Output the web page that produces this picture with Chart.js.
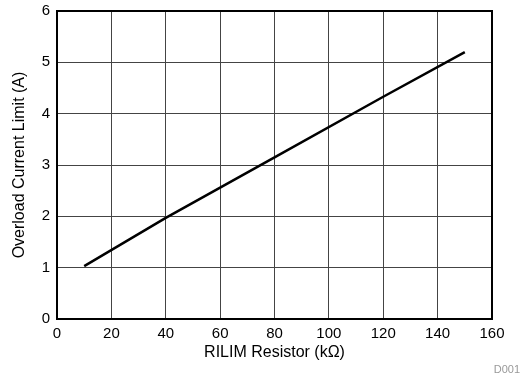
<!DOCTYPE html>
<html><head><meta charset="utf-8">
<script src="https://cdn.jsdelivr.net/npm/chart.js@4/dist/chart.umd.min.js"></script>
<style>
html,body{margin:0;padding:0;background:#fff;}
#wrap{position:relative;width:522px;height:382px;}
#note{position:absolute;right:2px;top:363px;font:11px "Liberation Sans",Arial,sans-serif;color:#999;}
</style></head>
<body>
<div id="wrap"><canvas id="c" width="522" height="382"></canvas><div id="note">D001</div></div>
<script>
const resistance = [10, 40, 80, 120, 150];
const currentLimit = [1.03, 1.97, 3.15, 4.33, 5.2];
const xTicks = [0,20,40,60,80,100,120,140,160];
const yTicks = [0,1,2,3,4,5,6];

const frame = {
  id:'frame',
  afterDraw(chart){
    const {ctx, chartArea:a} = chart;
    ctx.save();
    ctx.strokeStyle='#000';
    ctx.lineWidth=2;
    ctx.strokeRect(a.left, a.top, a.right-a.left, a.bottom-a.top);
    ctx.restore();
  }
};
const font = {family:'"Liberation Sans", Arial, sans-serif', size:15};
const tfont = {family:'"Liberation Sans", Arial, sans-serif', size:16};
new Chart(document.getElementById('c'), {
  type:'line',
  data:{datasets:[{
    data: resistance.map((x,i)=>({x, y: currentLimit[i]})),
    borderColor:'#000', borderWidth:2.5, pointRadius:0, tension:0, fill:false
  }]},
  options:{
    responsive:false, animation:false,
    layout:{padding:{left:0,right:30,top:11,bottom:20}},
    plugins:{legend:{display:false}, tooltip:{enabled:false}},
    scales:{
      x:{type:'linear', min:0, max:160,
        afterBuildTicks(s){ s.ticks = xTicks.map(v=>({value:v})); },
        afterFit(s){ s.height = 43; s.paddingLeft = 0; s.paddingRight = 0; },
        grid:{color:'#444', lineWidth:1, drawTicks:false},
        border:{display:false},
        ticks:{color:'#000', font, padding:6, maxRotation:0},
        title:{display:true, text:'RILIM Resistor (kΩ)', color:'#000', font:tfont, padding:{top:1,bottom:0}}
      },
      y:{type:'linear', min:0, max:6,
        afterBuildTicks(s){ s.ticks = yTicks.map(v=>({value:v})); },
        afterFit(s){ s.width = 57; s.paddingTop = 0; s.paddingBottom = 0; },
        grid:{color:'#444', lineWidth:1, drawTicks:false},
        border:{display:false},
        ticks:{color:'#000', font, padding:7},
        title:{display:true, text:'Overload Current Limit (A)', color:'#000', font:tfont, padding:{top:10,bottom:4}}
      }
    }
  },
  plugins:[frame]
});
</script>
</body></html>
